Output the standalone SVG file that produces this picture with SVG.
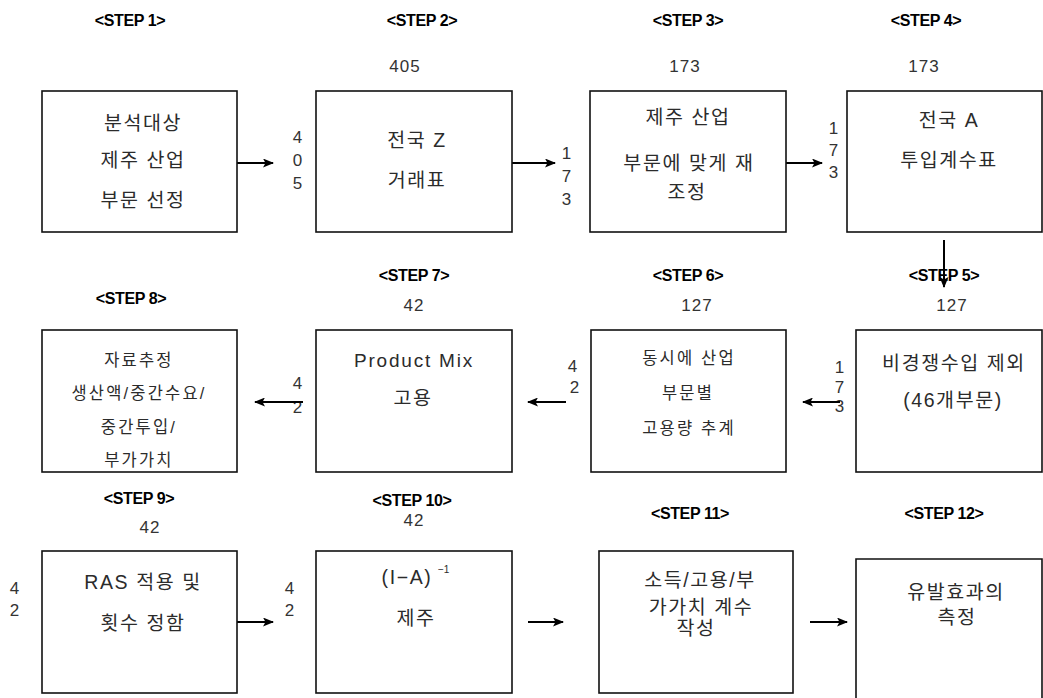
<svg xmlns="http://www.w3.org/2000/svg" width="1043" height="698" viewBox="0 0 1043 698">
<style>
.box{fill:#fff;stroke:#111;stroke-width:1.6}
.step{font-family:"Liberation Sans","Noto Sans CJK KR",sans-serif;font-weight:bold;font-size:16px;fill:#000;text-anchor:middle;letter-spacing:-0.4px}
.num{font-family:"Liberation Sans","Noto Sans CJK KR",sans-serif;font-size:17px;fill:#333;text-anchor:middle;letter-spacing:1px}
.t{font-family:"Liberation Sans","Noto Sans CJK KR",sans-serif;font-size:19.5px;fill:#2b2b2b;text-anchor:middle;letter-spacing:1.6px}
.s{font-family:"Liberation Sans","Noto Sans CJK KR",sans-serif;font-size:16.5px;fill:#2b2b2b;text-anchor:middle;letter-spacing:2.2px}
.sup{font-family:"Liberation Sans",sans-serif;font-size:10px;fill:#2b2b2b}
.c{stroke:#000;stroke-width:2;fill:none;marker-end:url(#ah)}
</style>
<defs>
<marker id="ah" markerWidth="11" markerHeight="9" refX="10" refY="4.5" orient="auto" markerUnits="userSpaceOnUse">
<path d="M0,0 L11,4.5 L0,9 L2.5,4.5 Z" fill="#000"/>
</marker>
</defs>
<rect width="1043" height="698" fill="#fff"/>

<g id="labels">
<text class="step" x="130" y="26">&lt;STEP 1&gt;</text>
<text class="step" x="422" y="26">&lt;STEP 2&gt;</text>
<text class="step" x="688" y="26">&lt;STEP 3&gt;</text>
<text class="step" x="926" y="26">&lt;STEP 4&gt;</text>
<text class="step" x="944" y="281">&lt;STEP 5&gt;</text>
<text class="step" x="688" y="281">&lt;STEP 6&gt;</text>
<text class="step" x="414" y="281">&lt;STEP 7&gt;</text>
<text class="step" x="131" y="304">&lt;STEP 8&gt;</text>
<text class="step" x="139" y="504">&lt;STEP 9&gt;</text>
<text class="step" x="412" y="506">&lt;STEP 10&gt;</text>
<text class="step" x="690" y="519">&lt;STEP 11&gt;</text>
<text class="step" x="944" y="519">&lt;STEP 12&gt;</text>

<text class="num" x="405" y="72">405</text>
<text class="num" x="685" y="72">173</text>
<text class="num" x="924" y="72">173</text>
<text class="num" x="414" y="311">42</text>
<text class="num" x="697" y="311">127</text>
<text class="num" x="952" y="311">127</text>
<text class="num" x="150" y="533">42</text>
<text class="num" x="414" y="526">42</text>

<text class="num" x="298" y="143">4</text>
<text class="num" x="298" y="166">0</text>
<text class="num" x="298" y="189">5</text>
<text class="num" x="567" y="159">1</text>
<text class="num" x="567" y="182">7</text>
<text class="num" x="567" y="205">3</text>
<text class="num" x="834" y="134">1</text>
<text class="num" x="834" y="156">7</text>
<text class="num" x="834" y="178">3</text>
<text class="num" x="298" y="389">4</text>
<text class="num" x="298" y="413">2</text>
<text class="num" x="573" y="372">4</text>
<text class="num" x="575" y="393">2</text>
<text class="num" x="840" y="373">1</text>
<text class="num" x="840" y="393">7</text>
<text class="num" x="840" y="412">3</text>
<text class="num" x="15" y="594">4</text>
<text class="num" x="15" y="616">2</text>
<text class="num" x="290" y="594">4</text>
<text class="num" x="290" y="616">2</text>
</g>

<g id="connectors">
<line class="c" x1="237" y1="163" x2="273" y2="163"/>
<line class="c" x1="512" y1="163" x2="555" y2="163"/>
<line class="c" x1="786" y1="163" x2="822" y2="163"/>
<line class="c" x1="944" y1="240" x2="944" y2="287"/>
<line class="c" x1="840" y1="402" x2="803" y2="402"/>
<line class="c" x1="566" y1="402" x2="528" y2="402"/>
<line class="c" x1="303" y1="402" x2="255" y2="402"/>
<line class="c" x1="237" y1="622" x2="273" y2="622"/>
<line class="c" x1="528" y1="622" x2="563" y2="622"/>
<line class="c" x1="810" y1="622" x2="847" y2="622"/>
</g>

<g id="step1">
<rect class="box" x="42" y="91" width="195" height="141"/>
<text class="t" x="143" y="130">분석대상</text>
<text class="t" x="143" y="167">제주 산업</text>
<text class="t" x="143" y="207">부문 선정</text>
</g>
<g id="step2">
<rect class="box" x="316" y="91" width="196" height="141"/>
<text class="t" x="417" y="147">전국 Z</text>
<text class="t" x="417" y="187">거래표</text>
</g>
<g id="step3">
<rect class="box" x="590" y="91" width="196" height="141"/>
<text class="t" x="688" y="124">제주 산업</text>
<text class="t" x="689" y="170">부문에 맞게 재</text>
<text class="t" x="687" y="199">조정</text>
</g>
<g id="step4">
<rect class="box" x="847" y="91" width="195" height="141"/>
<text class="t" x="949" y="127">전국 A</text>
<text class="t" x="949" y="167">투입계수표</text>
</g>
<g id="step5">
<rect class="box" x="856" y="330" width="186" height="142"/>
<text class="t" x="954" y="370">비경쟁수입 제외</text>
<text class="t" x="953" y="407">(46개부문)</text>
</g>
<g id="step6">
<rect class="box" x="591" y="330" width="195" height="142"/>
<text class="s" x="689" y="364">동시에 산업</text>
<text class="s" x="688" y="399">부문별</text>
<text class="s" x="689" y="434">고용량 추계</text>
</g>
<g id="step7">
<rect class="box" x="316" y="330" width="196" height="142"/>
<text class="t" x="414" y="367" style="font-size:19px;letter-spacing:1.8px">Product Mix</text>
<text class="t" x="413" y="405">고용</text>
</g>
<g id="step8">
<rect class="box" x="42" y="330" width="195" height="142"/>
<text class="s" x="139" y="366">자료추정</text>
<text class="s" x="139" y="399">생산액/중간수요/</text>
<text class="s" x="139" y="433">중간투입/</text>
<text class="s" x="139" y="466">부가가치</text>
</g>
<g id="step9">
<rect class="box" x="42" y="551" width="195" height="142"/>
<text class="t" x="143" y="589">RAS 적용 및</text>
<text class="t" x="143" y="630">횟수 정함</text>
</g>
<g id="step10">
<rect class="box" x="316" y="551" width="196" height="142"/>
<text class="t" x="407" y="584">(I−A)</text>
<text class="sup" x="438" y="573">−1</text>
<text class="t" x="416" y="625">제주</text>
</g>
<g id="step11">
<rect class="box" x="599" y="551" width="194" height="142"/>
<text class="t" x="700" y="587">소득/고용/부</text>
<text class="t" x="701" y="614">가가치 계수</text>
<text class="t" x="696" y="635">작성</text>
</g>
<g id="step12">
<path class="box" d="M856,710 L856,559 L1042,559 L1042,710"/>
<text class="t" x="956" y="599">유발효과의</text>
<text class="t" x="957" y="624">측정</text>
</g>
</svg>
